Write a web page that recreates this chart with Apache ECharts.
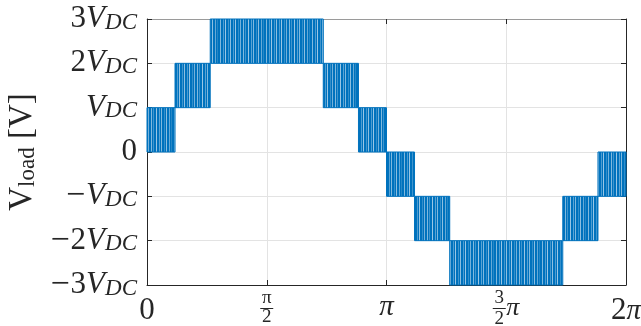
<!DOCTYPE html>
<html>
<head>
<meta charset="utf-8">
<script src="https://cdn.jsdelivr.net/npm/echarts@6/dist/echarts.min.js"></script>
<style>
  html, body { margin: 0; padding: 0; background: #fff; }
  #chart { width: 641px; height: 326px; }
</style>
</head>
<body>
<div id="chart"></div>
<script>
// ---- data (x in multiples of pi, levels in multiples of V_DC) ----
const segStart = [0, 0.117, 0.264, 0.736, 0.883, 1.0, 1.117, 1.264, 1.736, 1.883];
const segEnd   = [0.117, 0.264, 0.736, 0.883, 1.0, 1.117, 1.264, 1.736, 1.883, 2.0];
const segLow   = [0, 1, 2, 1, 0, -1, -2, -3, -2, -1];
const segHigh  = [1, 2, 3, 2, 1, 0, -1, -2, -1, 0];
const xTickLabels = [
  '{big|0}',
  '{fn|π}\n{bar| }\n{fd|2}',
  '{bigpi|π}',
  '{fn|3}{gap| }\n{bar| }{pi|π}\n{fd|2}{gap| }',
  '{big|2}{bigpi|π}'
];
const yTickValues = [-3, -2, -1, 0, 1, 2, 3];
const yTickLabels = [
  '{m|−}{n|3}{v|V}{s|DC}',
  '{m|−}{n|2}{v|V}{s|DC}',
  '{m|−}{v|V}{s|DC}',
  '{n|0}',
  '{v|V}{s|DC}',
  '{n|2}{v|V}{s|DC}',
  '{n|3}{v|V}{s|DC}'
];

// ---- style ----
const PI = Math.PI;
const BLUE = '#0072BD';
const AX = '#262626';
const FONT = '"Liberation Serif", "DejaVu Serif", serif';

// stripe texture imitating dense PWM switching
const stripes = [[0,0.55],[3,0.3],[5,0.6],[8,0.2],[10,0.45],[13,0.5],[15,0.25],[18,0.6],[21,0.35],[23,0.5],[26,0.2],[28,0.55],[31,0.4],[33,0.15],[36,0.5],[39,0.3],[41,0.6],[44,0.25]];
const pc = document.createElement('canvas');
pc.width = 46; pc.height = 4;
const g = pc.getContext('2d');
g.fillStyle = BLUE; g.fillRect(0, 0, pc.width, pc.height);
stripes.forEach(([x, a]) => { g.fillStyle = 'rgba(255,255,255,' + a + ')'; g.fillRect(x, 0, 1, pc.height); });
const pattern = { image: pc, repeat: 'repeat' };

const segData = segStart.map((s, i) => [s * PI, segEnd[i] * PI, segLow[i], segHigh[i]]);

const chart = echarts.init(document.getElementById('chart'), null, { renderer: 'canvas' });
chart.setOption({
  animation: false,
  backgroundColor: '#fff',
  grid: { left: 147, right: 15, top: 19, bottom: 41, containLabel: false, outerBoundsMode: 'none' },
  xAxis: [{
    type: 'value', min: 0, max: 2 * PI, interval: PI / 2,
    axisLine: { show: true, onZero: false, lineStyle: { color: AX, width: 1 } },
    axisTick: { show: true, inside: true, length: 5, lineStyle: { color: AX } },
    splitLine: { show: true, lineStyle: { color: '#e3e3e3', width: 1 } },
    axisLabel: {
      margin: 4,
      formatter: v => xTickLabels[Math.round(v / (PI / 2))] || '',
      rich: {
        big: { fontFamily: FONT, fontSize: 31, lineHeight: 44, color: AX },
        bigpi: { fontFamily: FONT, fontSize: 29, fontStyle: 'italic', lineHeight: 36, color: AX },
        fn: { fontFamily: FONT, fontSize: 19, lineHeight: 18, width: 13, align: 'center', color: AX },
        fd: { fontFamily: FONT, fontSize: 19, lineHeight: 15, width: 13, align: 'center', color: AX },
        bar: { width: 13, height: 1, lineHeight: 3, backgroundColor: AX },
        gap: { width: 14, lineHeight: 18 },
        pi: { fontFamily: FONT, fontSize: 26, fontStyle: 'italic', lineHeight: 3, width: 14, align: 'left', color: AX }
      }
    }
  }, {
    type: 'value', position: 'top', min: 0, max: 2 * PI, interval: PI / 2,
    axisLine: { show: true, onZero: false, lineStyle: { color: '#9a9a9a', width: 1 } },
    axisTick: { show: true, inside: true, length: 5, lineStyle: { color: AX } },
    axisLabel: { show: false }, splitLine: { show: false }
  }],
  yAxis: [{
    type: 'value', min: -3, max: 3, interval: 1,
    axisLine: { show: true, onZero: false, lineStyle: { color: AX, width: 1 } },
    axisTick: { show: true, inside: true, length: 5, lineStyle: { color: AX } },
    splitLine: { show: true, lineStyle: { color: '#e3e3e3', width: 1 } },
    name: '{v|V}{s|load}{r| [V]}',
    nameLocation: 'middle', nameRotate: 90, nameGap: 108,
    nameTextStyle: {
      rich: {
        v: { fontFamily: FONT, fontSize: 33, lineHeight: 34, color: AX },
        s: { fontFamily: FONT, fontSize: 23, verticalAlign: 'bottom', lineHeight: 34, color: AX },
        r: { fontFamily: FONT, fontSize: 33, lineHeight: 34, color: AX }
      }
    },
    axisLabel: {
      margin: 10,
      formatter: v => { const i = yTickValues.indexOf(Math.round(v)); return i >= 0 ? yTickLabels[i] : ''; },
      rich: {
        m: { fontFamily: FONT, fontSize: 34, lineHeight: 30, padding: [0, 1, 0, 0], color: AX },
        n: { fontFamily: FONT, fontSize: 31, lineHeight: 30, color: AX },
        v: { fontFamily: FONT, fontSize: 31, fontStyle: 'italic', lineHeight: 30, color: AX },
        s: { fontFamily: FONT, fontSize: 23, fontStyle: 'italic', lineHeight: 30, verticalAlign: 'bottom', color: AX }
      }
    }
  }, {
    type: 'value', position: 'right', min: -3, max: 3, interval: 1,
    axisLine: { show: true, onZero: false, lineStyle: { color: AX, width: 1 } },
    axisTick: { show: true, inside: true, length: 5, lineStyle: { color: AX } },
    axisLabel: { show: false }, splitLine: { show: false }
  }],
  series: [{
    type: 'custom',
    xAxisIndex: 0, yAxisIndex: 0,
    encode: { x: [0, 1], y: [2, 3] },
    data: segData,
    renderItem: (params, api) => {
      const p0 = api.coord([api.value(0), api.value(3)]);
      const p1 = api.coord([api.value(1), api.value(2)]);
      return {
        type: 'rect',
        shape: { x: p0[0], y: p0[1], width: p1[0] - p0[0], height: p1[1] - p0[1] },
        style: { fill: pattern, stroke: BLUE, lineWidth: 1 }
      };
    }
  }]
});
</script>
</body>
</html>
